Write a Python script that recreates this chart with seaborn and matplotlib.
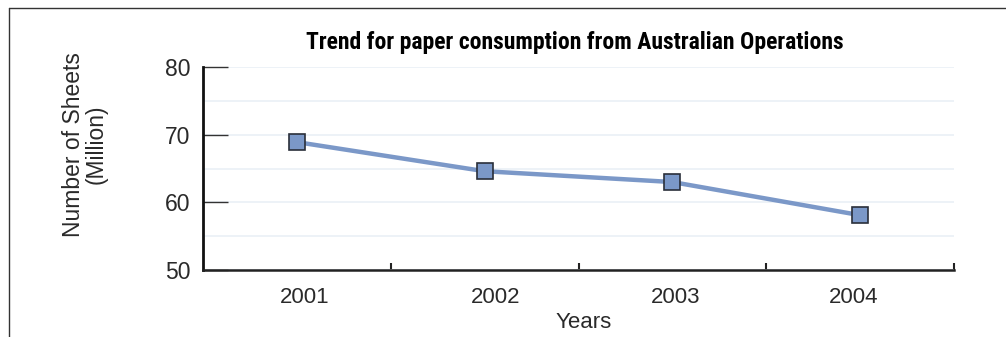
import matplotlib
matplotlib.use("Agg")
import matplotlib.pyplot as plt
from matplotlib.lines import Line2D
from matplotlib.transforms import ScaledTranslation
import seaborn as sns
import pandas as pd

years = ["2001", "2002", "2003", "2004"]
sheets = [68.9, 64.6, 63.0, 58.1]
title = "Trend for paper consumption from Australian Operations"
y_label = "Number of Sheets\n(Million)"
x_label = "Years"
y_ticks = [50, 60, 70, 80]
y_minor = [55, 65, 75]

sns.set_theme(style="white")
plt.rcParams['font.family'] = ["Liberation Sans", "DejaVu Sans"]

df = pd.DataFrame({"Years": years, "Sheets": sheets})

fig = plt.figure(figsize=(10.06, 3.37), dpi=100)
ax = fig.add_axes([203/1006, 1-270/337, 751/1006, 203/337])

sns.lineplot(data=df, x="Years", y="Sheets", ax=ax, color="#7b98c8", linewidth=3.2,
             marker="s", markersize=11, markerfacecolor="#7b98c8",
             markeredgecolor="#2a2f3a", markeredgewidth=1.2, sort=False, zorder=5)

ax.set_xlim(-0.5, 3.5)
ax.set_ylim(50, 80)
ax.set_yticks(y_ticks)
ax.set_yticks(y_minor, minor=True)
ax.set_xticks([0.5, 1.5, 2.5, 3.5], minor=True)
ax.grid(True, axis="y", which="both", color="#eaf0f6", linewidth=1.2)
ax.grid(False, axis="x", which="both")
ax.set_axisbelow(True)

for s in ["top", "right"]:
    ax.spines[s].set_visible(False)
ax.spines["left"].set_color("#111111")
ax.spines["left"].set_linewidth(2)
ax.spines["bottom"].set_color("#222222")
ax.spines["bottom"].set_linewidth(1.8)

txt = "#2a2a2a"
ax.tick_params(axis="y", which="major", direction="in", length=18, width=1, color="#333333",
               left=True, pad=9, labelsize=16.5, labelcolor=txt)
ax.tick_params(axis="y", which="minor", length=0)
ax.tick_params(axis="x", which="major", length=0, pad=12, labelsize=16, labelcolor=txt)
ax.tick_params(axis="x", which="minor", direction="in", length=5, width=1.5, color="#222222", bottom=True)

# small horizontal nudges of the year labels, as in the original artwork
nudges_px = [8, 11, 3, -6]
for lab, dx in zip(ax.get_xticklabels(), nudges_px):
    lab.set_transform(lab.get_transform() + ScaledTranslation(dx / 100, 0, fig.dpi_scale_trans))

ax.set_xlabel(x_label, fontsize=16, color=txt)
ax.xaxis.set_label_coords(0.507, -0.257)
ax.xaxis.label.set_va("center")
ax.set_ylabel(y_label, fontsize=16.5, color=txt, linespacing=1.0)
ax.yaxis.set_label_coords(-0.1265, 0.62)

ax.set_title(title, fontsize=17, fontweight="bold", pad=13, color="#000000",
             family=["Roboto Condensed", "Open Sans Condensed", "DejaVu Sans Condensed",
                     "Liberation Sans Narrow", "Liberation Sans"],
             fontstretch="condensed", x=0.495)

fig.add_artist(Line2D([9/1006, 1.0], [1-8/337, 1-8/337], transform=fig.transFigure,
                      color="#333333", linewidth=1))
fig.add_artist(Line2D([9/1006, 9/1006], [0, 1-8/337], transform=fig.transFigure,
                      color="#333333", linewidth=1))

fig.savefig("out.png", dpi=100)
